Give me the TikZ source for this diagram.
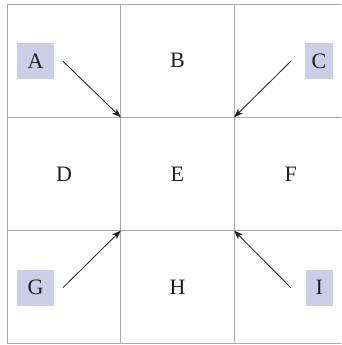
\documentclass[tikz,border=0pt]{standalone}
\usepackage{fontspec}
\setmainfont{Liberation Serif}
\usetikzlibrary{arrows.meta}
\definecolor{gridgray}{RGB}{170,170,170}
\definecolor{tagfill}{RGB}{205,205,232}
\definecolor{ink}{RGB}{30,30,30}
\tikzset{
  cell/.style={draw=gridgray, line width=0.9pt, minimum width=113.3pt, minimum height=113.3pt,
    inner sep=0pt, outer sep=0pt, font=\fontsize{22}{26}\selectfont, text=ink},
  tag/.style={fill=tagfill, minimum height=36pt, inner sep=0pt, outer sep=0pt,
    font=\fontsize{22}{26}\selectfont, text=ink},
  pointer/.style={draw=ink, line width=0.8pt, -{Stealth[length=9pt,width=6.5pt,inset=2.5pt]}}
}
\begin{document}
\begin{tikzpicture}[x=1pt, y=-1pt]
\useasboundingbox (0,0) rectangle (341,345);
\clip (0,0) rectangle (341,345);
% 3x3 grid of cells
\node[cell] (B1) at (64.15,60.65) {};
\node[cell] (B) at (177.45,60.65) {B};
\node[cell] (B3) at (290.75,60.65) {};
\node[cell] (D) at (64.15,173.95) {D};
\node[cell] (E) at (177.45,173.95) {E};
\node[cell] (F) at (290.75,173.95) {F};
\node[cell] (H1) at (64.15,287.25) {};
\node[cell] (H) at (177.45,287.25) {H};
\node[cell] (H3) at (290.75,287.25) {};
% shaded corner tags
\node[tag, minimum width=37.6pt] (A) at (35.5,61.3) {A};
\node[tag, minimum width=27.7pt] (C) at (318.9,61.3) {C};
\node[tag, minimum width=37.6pt] (G) at (35.5,287.6) {G};
\node[tag, minimum width=26.7pt] (I) at (319.4,287.6) {I};
% pointers to the corners of the centre cell
\draw[pointer] ([xshift=8.7pt]A.east) -- (E.north west);
\draw[pointer] ([xshift=-14.3pt]C.west) -- (E.north east);
\draw[pointer] ([xshift=8.7pt]G.east) -- (E.south west);
\draw[pointer] ([xshift=-15.3pt]I.west) -- (E.south east);
\end{tikzpicture}
\end{document}
